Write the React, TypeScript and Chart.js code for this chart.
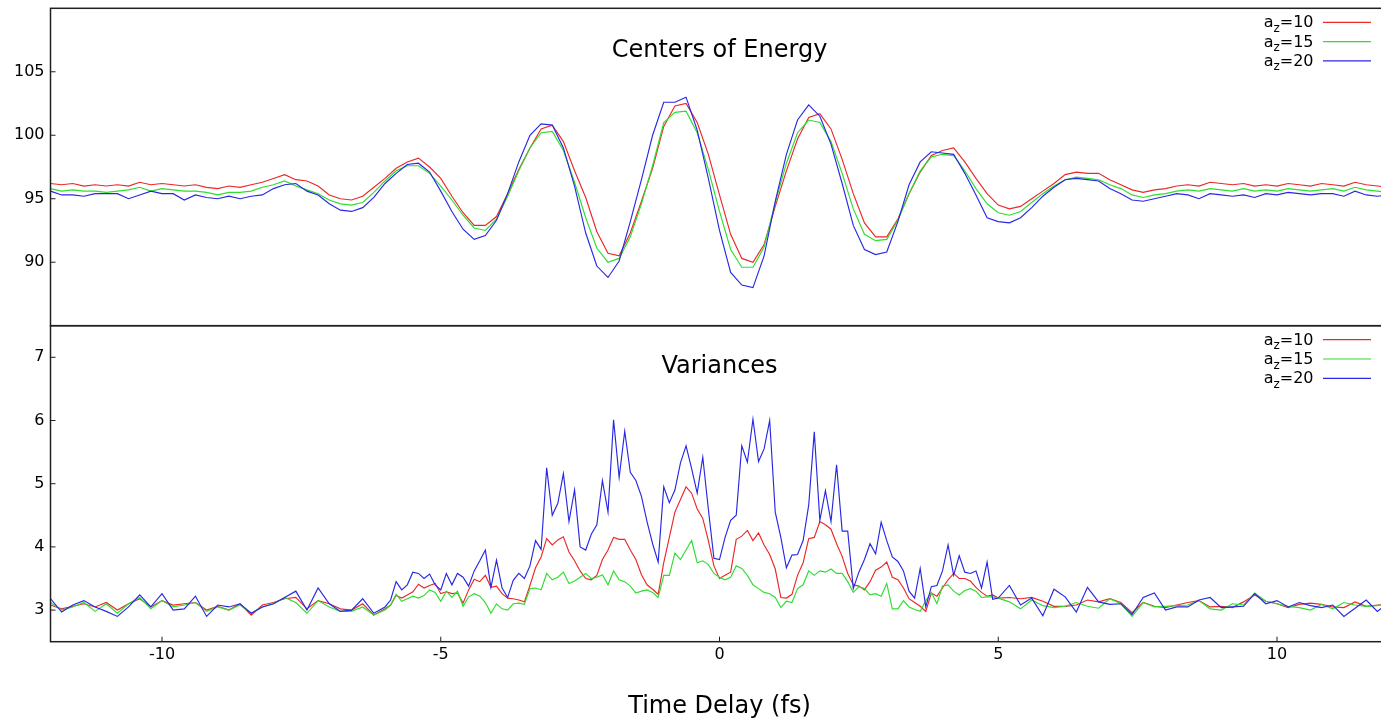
import React, { useEffect, useRef } from "react";
import { Chart, registerables } from "chart.js";

Chart.register(...registerables);

const FONT = "'DejaVu Sans', 'Liberation Sans', sans-serif";
const round1 = (v: number) => Math.round(v * 10) / 10;

// ---------- Centers of Energy : time grid -12 ... 12 fs (step 0.2) ----------
const energyTime = Array.from({ length: 121 }, (_, i) => round1(-12 + 0.2 * i));

const energyAz10 = [
  96.2, 96.1, 96.2, 96.0, 96.1, 96.0, 96.1, 96.0, 96.3, 96.1,
  96.2, 96.1, 96.0, 96.1, 95.9, 95.8, 96.0, 95.9, 96.1, 96.3,
  96.6, 96.9, 96.5, 96.4, 96.0, 95.3, 95.0, 94.9, 95.2, 95.9,
  96.6, 97.4, 97.9, 98.2, 97.5, 96.6, 95.2, 93.9, 92.9, 92.9,
  93.6, 95.4, 97.3, 99.0, 100.5, 100.8, 99.5, 97.2, 95.1, 92.4,
  90.7, 90.5, 92.3, 94.8, 97.4, 100.7, 102.3, 102.5, 101.0, 98.5,
  95.3, 92.2, 90.3, 90.0, 91.4, 94.4, 97.2, 99.7, 101.4, 101.7,
  100.5, 98.1, 95.4, 93.1, 92.0, 92.0, 93.4, 95.4, 97.1, 98.4,
  98.8, 99.0, 97.9, 96.6, 95.4, 94.5, 94.2, 94.4, 95.0, 95.6,
  96.2, 96.9, 97.1, 97.0, 97.0, 96.5, 96.1, 95.7, 95.5, 95.7,
  95.8, 96.0, 96.1, 96.0, 96.3, 96.2, 96.1, 96.2, 96.0, 96.1,
  96.0, 96.2, 96.1, 96.0, 96.2, 96.1, 96.0, 96.3, 96.1, 96.0,
  95.9,
];

const energyAz15 = [
  95.8, 95.6, 95.7, 95.6, 95.6, 95.5, 95.6, 95.7, 95.9, 95.6,
  95.8, 95.7, 95.6, 95.6, 95.5, 95.3, 95.5, 95.5, 95.6, 95.9,
  96.1, 96.4, 96.0, 95.7, 95.4, 94.9, 94.6, 94.5, 94.7, 95.5,
  96.4, 97.2, 97.6, 97.6, 97.0, 96.0, 94.9, 93.7, 92.7, 92.5,
  93.4, 95.2, 97.2, 99.0, 100.2, 100.3, 98.8, 96.3, 93.5, 91.1,
  90.0, 90.3, 92.0, 94.6, 97.6, 101.0, 101.8, 101.9, 100.2, 97.3,
  94.0, 91.0, 89.6, 89.6, 91.2, 94.7, 97.8, 100.2, 101.2, 101.0,
  99.5, 97.0, 94.2, 92.2, 91.7, 91.8, 93.3, 95.4, 97.2, 98.3,
  98.5, 98.4, 97.2, 95.8, 94.6, 93.9, 93.7, 94.0, 94.7, 95.4,
  96.0, 96.5, 96.7, 96.6, 96.5, 96.1, 95.8, 95.3, 95.1, 95.3,
  95.4, 95.6, 95.7, 95.6, 95.8, 95.7, 95.6, 95.8, 95.6, 95.7,
  95.6, 95.8, 95.7, 95.6, 95.7, 95.8, 95.6, 95.9, 95.7, 95.6,
  95.5,
];

const energyAz20 = [
  95.6, 95.3, 95.3, 95.2, 95.4, 95.4, 95.4, 95.0, 95.3, 95.6,
  95.4, 95.4, 94.9, 95.3, 95.1, 95.0, 95.2, 95.0, 95.2, 95.3,
  95.8, 96.1, 96.2, 95.6, 95.3, 94.6, 94.1, 94.0, 94.3, 95.1,
  96.2, 97.0, 97.7, 97.8, 97.1, 95.6, 94.0, 92.6, 91.8, 92.1,
  93.3, 95.4, 97.9, 100.0, 100.9, 100.8, 99.0, 96.0, 92.3, 89.7,
  88.8, 90.1, 93.2, 96.5, 100.0, 102.6, 102.6, 103.0, 100.4, 96.6,
  92.5, 89.2, 88.2, 88.0, 90.5, 94.8, 98.5, 101.2, 102.4, 101.5,
  99.3, 96.2, 92.9, 91.0, 90.6, 90.8, 93.2, 96.1, 97.9, 98.7,
  98.6, 98.5, 97.0, 95.3, 93.5, 93.2, 93.1, 93.5, 94.3, 95.2,
  95.9, 96.5, 96.6, 96.5, 96.4, 95.8, 95.4, 94.9, 94.8, 95.0,
  95.2, 95.4, 95.3, 95.0, 95.4, 95.3, 95.2, 95.3, 95.1, 95.4,
  95.3, 95.5, 95.4, 95.3, 95.4, 95.4, 95.2, 95.6, 95.3, 95.2,
  95.3,
];

// ---------- Variances : time grid (-12..-6.2 step 0.2, -6..5 step 0.1, 5.2..12 step 0.2) ----------
const varianceTime = [
  ...Array.from({ length: 30 }, (_, i) => round1(-12 + 0.2 * i)),
  ...Array.from({ length: 111 }, (_, i) => round1(-6 + 0.1 * i)),
  ...Array.from({ length: 35 }, (_, i) => round1(5.2 + 0.2 * i)),
];

const varianceAz10 = [
  // -12.0 .. -6.2
  3.08, 3.02, 3.06, 3.10, 3.05, 3.12, 3.00, 3.10, 3.18, 3.05,
  3.15, 3.08, 3.10, 3.12, 3.00, 3.06, 3.00, 3.10, 2.92, 3.08,
  3.12, 3.18, 3.20, 3.02, 3.15, 3.10, 3.02, 3.00, 3.10, 2.92,
  // -6.0 .. 5.0
  3.02, 3.08, 3.23, 3.19, 3.24, 3.29, 3.41, 3.35, 3.39, 3.42,
  3.26, 3.29, 3.26, 3.27, 3.11, 3.32, 3.49, 3.45, 3.55, 3.36,
  3.38, 3.26, 3.19, 3.18, 3.16, 3.13, 3.39, 3.67, 3.84, 4.13,
  4.03, 4.11, 4.16, 3.92, 3.78, 3.62, 3.50, 3.48, 3.55, 3.80,
  3.95, 4.15, 4.12, 4.12, 3.95, 3.80, 3.56, 3.40, 3.33, 3.25,
  3.75, 4.15, 4.55, 4.75, 4.95, 4.85, 4.60, 4.45, 4.10, 3.70,
  3.50, 3.55, 3.60, 4.12, 4.17, 4.26, 4.10, 4.22, 4.03, 3.88,
  3.65, 3.20, 3.19, 3.25, 3.55, 3.75, 4.13, 4.15, 4.40, 4.35,
  4.28, 4.05, 3.85, 3.58, 3.40, 3.38, 3.32, 3.45, 3.63, 3.68,
  3.76, 3.52, 3.48, 3.35, 3.18, 3.12, 3.06, 2.98, 3.27, 3.22,
  3.35, 3.48, 3.58, 3.50, 3.50, 3.46, 3.36, 3.28, 3.22, 3.24,
  3.19,
  // 5.2 .. 12.0
  3.20, 3.18, 3.20, 3.14, 3.06, 3.06, 3.08, 3.16, 3.13, 3.18,
  3.12, 2.96, 3.12, 3.06, 3.04, 3.08, 3.12, 3.15, 3.05, 3.06,
  3.04, 3.13, 3.24, 3.14, 3.10, 3.04, 3.09, 3.11, 3.09, 3.05,
  3.04, 3.13, 3.06, 3.08, 3.09,
];

const varianceAz15 = [
  // -12.0 .. -6.2
  3.12, 3.00, 3.05, 3.12, 2.98, 3.10, 2.95, 3.10, 3.20, 3.02,
  3.15, 3.05, 3.08, 3.12, 2.98, 3.05, 3.00, 3.08, 2.95, 3.05,
  3.10, 3.20, 3.12, 2.95, 3.15, 3.05, 2.98, 2.98, 3.05, 2.92,
  // -6.0 .. 5.0
  3.00, 3.08, 3.25, 3.14, 3.18, 3.22, 3.19, 3.23, 3.32, 3.28,
  3.14, 3.30, 3.20, 3.30, 3.06, 3.21, 3.26, 3.22, 3.12, 2.95,
  3.10, 3.02, 3.00, 3.10, 3.11, 3.09, 3.34, 3.35, 3.32, 3.58,
  3.48, 3.52, 3.60, 3.42, 3.46, 3.52, 3.58, 3.50, 3.52, 3.56,
  3.40, 3.62, 3.48, 3.45, 3.38, 3.27, 3.30, 3.32, 3.28, 3.20,
  3.55, 3.55, 3.90, 3.80, 3.95, 4.10, 3.75, 3.78, 3.72, 3.58,
  3.52, 3.48, 3.52, 3.70, 3.66, 3.55, 3.40, 3.34, 3.28, 3.26,
  3.20, 3.04, 3.14, 3.12, 3.34, 3.40, 3.62, 3.55, 3.62, 3.60,
  3.65, 3.58, 3.58, 3.45, 3.28, 3.37, 3.34, 3.24, 3.26, 3.22,
  3.42, 3.02, 3.02, 3.15, 3.05, 3.01, 2.98, 3.15, 3.28, 3.10,
  3.38, 3.40, 3.30, 3.24, 3.31, 3.34, 3.30, 3.20, 3.21, 3.21,
  3.19,
  // 5.2 .. 12.0
  3.13, 3.02, 3.16, 3.07, 3.04, 3.06, 3.12, 3.06, 3.03, 3.18,
  3.10, 2.90, 3.12, 3.05, 3.06, 3.07, 3.08, 3.15, 3.02, 3.00,
  3.10, 3.08, 3.27, 3.14, 3.10, 3.06, 3.04, 3.00, 3.09, 3.02,
  3.12, 3.08, 3.06, 3.07, 3.10,
];

const varianceAz20 = [
  // -12.0 .. -6.2
  3.18, 2.97, 3.08, 3.15, 3.05, 2.98, 2.90, 3.05, 3.24, 3.05,
  3.26, 3.00, 3.02, 3.22, 2.90, 3.08, 3.05, 3.10, 2.95, 3.05,
  3.10, 3.20, 3.30, 3.00, 3.35, 3.10, 2.98, 3.00, 3.18, 2.95,
  // -6.0 .. 5.0
  3.05, 3.16, 3.45, 3.32, 3.40, 3.60, 3.58, 3.50, 3.57, 3.40,
  3.32, 3.58, 3.40, 3.58, 3.52, 3.38, 3.62, 3.78, 3.95, 3.36,
  3.79, 3.35, 3.20, 3.47, 3.58, 3.50, 3.70, 4.10, 3.96, 5.25,
  4.50, 4.69, 5.16, 4.40, 4.90, 4.00, 3.95, 4.20, 4.35, 5.05,
  4.55, 6.01, 5.10, 5.83, 5.18, 5.05, 4.80, 4.40, 4.05, 3.76,
  4.95, 4.70, 4.90, 5.33, 5.60, 5.24, 4.85, 5.42, 4.60, 3.82,
  3.80, 4.15, 4.42, 4.50, 5.60, 5.34, 6.02, 5.35, 5.55, 6.00,
  4.55, 4.15, 3.67, 3.87, 3.88, 4.10, 4.66, 5.82, 4.42, 4.89,
  4.40, 5.30, 4.25, 4.25, 3.34, 3.60, 3.80, 4.05, 3.89, 4.39,
  4.10, 3.84, 3.77, 3.62, 3.30, 3.19, 3.66, 3.05, 3.37, 3.39,
  3.62, 4.03, 3.55, 3.86, 3.60, 3.58, 3.62, 3.35, 3.76, 3.17,
  3.19,
  // 5.2 .. 12.0
  3.39, 3.08, 3.19, 2.91, 3.33, 3.21, 2.97, 3.36, 3.13, 3.09,
  3.10, 2.93, 3.20, 3.27, 3.00, 3.05, 3.05, 3.16, 3.20, 3.04,
  3.05, 3.06, 3.26, 3.10, 3.15, 3.05, 3.12, 3.07, 3.04, 3.08,
  2.90, 3.03, 3.16, 2.98, 3.12,
];

const seriesNames = ["10", "15", "20"];
const seriesColors = ["rgb(235,40,40)", "rgb(45,222,45)", "rgb(40,40,228)"];
const timeRange = [-12, 12];
const energyRange = [85, 110];
const varianceRange = [2.5, 7.5];
const xTickValues = [-10, -5, 0, 5, 10];
const energyTickValues = [90, 95, 100, 105];
const varianceTickValues = [3, 4, 5, 6, 7];

function toPoints(time: number[], vals: number[]) {
  return time
    .map((t, i) => ({ x: t, y: vals[i] }))
    .filter((p) => typeof p.y === "number");
}

function makeDatasets(time: number[], series: number[][]) {
  return series.map((vals, i) => ({
    label: "a_z=" + seriesNames[i],
    data: toPoints(time, vals),
    borderColor: seriesColors[i],
    backgroundColor: seriesColors[i],
    borderWidth: 1.15,
    pointRadius: 0,
    tension: 0,
    fill: false,
    order: 3 - i,
  }));
}

function yScale(range: number[], ticks: number[]) {
  return {
    type: "linear",
    min: range[0],
    max: range[1],
    afterBuildTicks: (s: any) => {
      s.ticks = ticks.map((v) => ({ value: v }));
    },
    afterFit: (s: any) => {
      s.width = 50.5;
      s.paddingTop = 0;
      s.paddingBottom = 0;
    },
    grid: { display: false, drawTicks: false },
    border: { display: false },
    ticks: { padding: 6, color: "#000", font: { family: FONT, size: 16 } },
  };
}

function decorPlugin(cfg: {
  title: string;
  titleBaseline: number;
  yTicks: number[];
  xTicks: number[] | null;
  xTitle?: string;
  xTitleBaseline?: number;
}) {
  return {
    id: "decor",
    afterDatasetsDraw(chart: any) {
      const { ctx, chartArea: a, scales } = chart;
      ctx.save();
      // frame
      ctx.strokeStyle = "#202020";
      ctx.lineWidth = 1.5;
      ctx.strokeRect(a.left, a.top, a.right - a.left, a.bottom - a.top);
      // inward tick marks
      ctx.lineWidth = 1;
      ctx.beginPath();
      for (const v of cfg.yTicks) {
        const y = scales.y.getPixelForValue(v);
        ctx.moveTo(a.left, y);
        ctx.lineTo(a.left + 5, y);
        ctx.moveTo(a.right, y);
        ctx.lineTo(a.right - 5, y);
      }
      if (cfg.xTicks) {
        for (const v of cfg.xTicks) {
          const x = scales.x.getPixelForValue(v);
          ctx.moveTo(x, a.bottom);
          ctx.lineTo(x, a.bottom - 5);
        }
      }
      ctx.stroke();
      // titles
      ctx.fillStyle = "#000";
      ctx.textAlign = "center";
      ctx.textBaseline = "alphabetic";
      ctx.font = `24px ${FONT}`;
      const cx = (a.left + a.right) / 2;
      ctx.fillText(cfg.title, cx, cfg.titleBaseline);
      if (cfg.xTitle && cfg.xTitleBaseline) ctx.fillText(cfg.xTitle, cx, cfg.xTitleBaseline);
      // legend
      const big = `16px ${FONT}`;
      const small = `12px ${FONT}`;
      chart.data.datasets.forEach((ds: any, i: number) => {
        const lineY = a.top + 14 + i * 19.3;
        const base = lineY + 5;
        ctx.strokeStyle = ds.borderColor;
        ctx.lineWidth = 1.2;
        ctx.beginPath();
        ctx.moveTo(a.right - 65.5, lineY);
        ctx.lineTo(a.right - 17.5, lineY);
        ctx.stroke();
        ctx.textAlign = "left";
        ctx.fillStyle = "#000";
        ctx.font = big;
        const rest = "=" + seriesNames[i];
        const wA = ctx.measureText("a").width;
        const wR = ctx.measureText(rest).width;
        ctx.font = small;
        const wZ = ctx.measureText("z").width;
        let x = a.right - 75 - (wA + wZ + wR);
        ctx.font = big;
        ctx.fillText("a", x, base);
        x += wA;
        ctx.font = small;
        ctx.fillText("z", x, base + 4.5);
        x += wZ;
        ctx.font = big;
        ctx.fillText(rest, x, base);
      });
      ctx.restore();
    },
  };
}

export default function App() {
  const topRef = useRef<HTMLCanvasElement | null>(null);
  const botRef = useRef<HTMLCanvasElement | null>(null);

  useEffect(() => {
    const common = {
      responsive: false,
      maintainAspectRatio: false,
      animation: false,
      devicePixelRatio: 1,
      events: [],
    };

    const top = new Chart(topRef.current as HTMLCanvasElement, {
      type: "line",
      data: { datasets: makeDatasets(energyTime, [energyAz10, energyAz15, energyAz20]) as any },
      options: {
        ...common,
        layout: { padding: { top: 8.3, bottom: 4.3, left: 0, right: 1.5 } },
        plugins: { legend: { display: false }, tooltip: { enabled: false }, title: { display: false } },
        scales: {
          x: { type: "linear", min: timeRange[0], max: timeRange[1], display: false },
          y: yScale(energyRange, energyTickValues),
        } as any,
      } as any,
      plugins: [
        decorPlugin({ title: "Centers of Energy", titleBaseline: 57, yTicks: energyTickValues, xTicks: null }),
      ],
    });

    const bottom = new Chart(botRef.current as HTMLCanvasElement, {
      type: "line",
      data: { datasets: makeDatasets(varianceTime, [varianceAz10, varianceAz15, varianceAz20]) as any },
      options: {
        ...common,
        layout: { padding: { top: 5.7, bottom: 0, left: 0, right: 1.5 } },
        plugins: { legend: { display: false }, tooltip: { enabled: false }, title: { display: false } },
        scales: {
          x: {
            type: "linear",
            min: timeRange[0],
            max: timeRange[1],
            afterBuildTicks: (s: any) => {
              s.ticks = xTickValues.map((v) => ({ value: v }));
            },
            afterFit: (s: any) => {
              s.height = 78.3;
              s.paddingLeft = 0;
              s.paddingRight = 0;
            },
            grid: { display: false, drawTicks: false },
            border: { display: false },
            ticks: {
              padding: 4,
              color: "#000",
              maxRotation: 0,
              autoSkip: false,
              font: { family: FONT, size: 16 },
            },
          },
          y: yScale(varianceRange, varianceTickValues),
        } as any,
      } as any,
      plugins: [
        decorPlugin({
          title: "Variances",
          titleBaseline: 53,
          yTicks: varianceTickValues,
          xTicks: xTickValues,
          xTitle: "Time Delay (fs)",
          xTitleBaseline: 393,
        }),
      ],
    });

    return () => {
      top.destroy();
      bottom.destroy();
    };
  }, []);

  return (
    <div
      style={{
        position: "fixed",
        left: 0,
        top: 0,
        width: 1381,
        height: 720,
        overflow: "hidden",
        background: "#fff",
      }}
    >
      <canvas ref={topRef} width={1390} height={330} style={{ position: "absolute", left: 0, top: 0 }} />
      <canvas ref={botRef} width={1390} height={400} style={{ position: "absolute", left: 0, top: 320 }} />
    </div>
  );
}
